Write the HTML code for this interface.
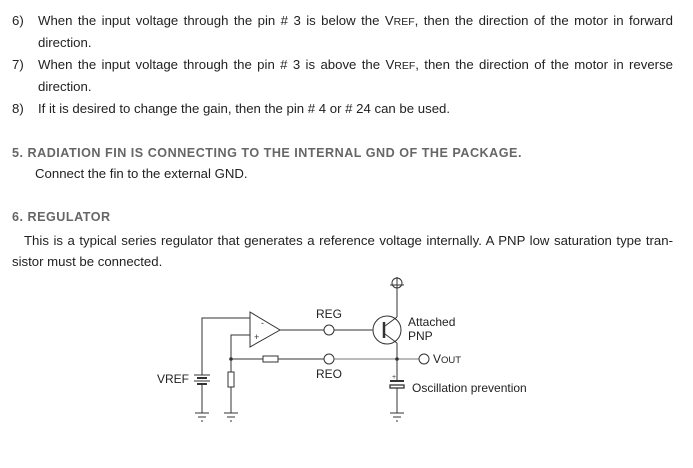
<!DOCTYPE html>
<html><head><meta charset="utf-8"><style>
body{margin:0;background:#fff;width:693px;height:468px;overflow:hidden;position:relative;font-family:"Liberation Sans",Arial,sans-serif;color:#222;font-size:13.2px}
.l{position:absolute;white-space:nowrap;line-height:14px}
.j{text-align:justify;text-align-last:justify;white-space:normal}
.h{color:#666;font-weight:bold;font-size:12.6px;letter-spacing:0.5px}
.sc{font-size:10.5px}
</style></head><body>
<div class="l" style="left:12px;top:14px">6)</div>
<div class="l j" style="left:38px;top:14px;width:635px">When the input voltage through the pin # 3 is below the V<span class="sc">REF</span>, then the direction of the motor in forward</div>
<div class="l" style="left:38px;top:36px">direction.</div>
<div class="l" style="left:12px;top:58px">7)</div>
<div class="l j" style="left:38px;top:58px;width:635px">When the input voltage through the pin # 3 is above the V<span class="sc">REF</span>, then the direction of the motor in reverse</div>
<div class="l" style="left:38px;top:80px">direction.</div>
<div class="l" style="left:12px;top:102px">8)</div>
<div class="l" style="left:38px;top:102px">If it is desired to change the gain, then the pin # 4 or # 24 can be used.</div>
<div class="l h" style="left:12px;top:146px">5. RADIATION FIN IS CONNECTING TO THE INTERNAL GND OF THE PACKAGE.</div>
<div class="l" style="left:35px;top:167px">Connect the fin to the external GND.</div>
<div class="l h" style="left:12px;top:210px">6. REGULATOR</div>
<div class="l j" style="left:24px;top:234px;width:649px">This is a typical series regulator that generates a reference voltage internally. A PNP low saturation type tran-</div>
<div class="l" style="left:12px;top:255px">sistor must be connected.</div>
<svg style="position:absolute;left:0;top:0" width="693" height="468" stroke="#333" stroke-width="1" fill="none" font-family="Liberation Sans,Arial,sans-serif" font-size="12">
<circle cx="397" cy="283" r="5"/><line x1="390" y1="285" x2="404" y2="285"/><line x1="397" y1="277" x2="397" y2="317"/>
<circle cx="387" cy="330" r="14"/><line x1="384" y1="322" x2="384" y2="338" stroke-width="2.5"/>
<line x1="385" y1="326" x2="397" y2="317"/><line x1="385" y1="334" x2="397" y2="343"/>
<line x1="397" y1="343" x2="397" y2="381"/><line x1="397" y1="388" x2="397" y2="413"/>
<line x1="390" y1="381" x2="404" y2="381" stroke-width="2"/><rect x="390" y="385" width="14" height="3" stroke-width="1.3"/>
<text x="392" y="379" font-size="7" fill="#333" stroke="none">+</text>
<polygon points="250,312 280,330 250,347"/>
<text x="261" y="326" font-size="9" fill="#333" stroke="none">-</text><text x="254" y="340" font-size="9" fill="#333" stroke="none">+</text>
<line x1="280" y1="330" x2="324" y2="330"/><circle cx="329" cy="330" r="5"/><line x1="334" y1="330" x2="373" y2="330"/>
<polyline points="250,318 202,318 202,375"/><line x1="202" y1="383" x2="202" y2="413"/>
<line x1="194" y1="375" x2="210" y2="375"/><line x1="197" y1="378" x2="207" y2="378" stroke-width="2"/><line x1="194" y1="381" x2="210" y2="381"/><line x1="197" y1="384" x2="207" y2="384" stroke-width="2"/>
<polyline points="250,335 231,335 231,372"/><rect x="228" y="372" width="6" height="15"/><line x1="231" y1="387" x2="231" y2="413"/>
<line x1="231" y1="359" x2="263" y2="359"/><rect x="263" y="356" width="15" height="6"/><line x1="278" y1="359" x2="324" y2="359"/>
<circle cx="329" cy="359" r="5"/><line x1="334" y1="359" x2="419" y2="359" stroke="#777"/><circle cx="424" cy="359" r="5"/>
<circle cx="231" cy="359" r="1.3" fill="#333"/><circle cx="397" cy="359" r="1.3" fill="#333"/>
<g><line x1="195" y1="413" x2="209" y2="413"/><line x1="198" y1="417" x2="206" y2="417"/><line x1="201" y1="421" x2="203" y2="421"/></g>
<g><line x1="224" y1="413" x2="238" y2="413"/><line x1="227" y1="417" x2="235" y2="417"/><line x1="230" y1="421" x2="232" y2="421"/></g>
<g><line x1="390" y1="413" x2="404" y2="413"/><line x1="393" y1="417" x2="401" y2="417"/><line x1="396" y1="421" x2="398" y2="421"/></g>
<g fill="#222" stroke="none">
<text x="316" y="318">REG</text><text x="316" y="378">REO</text><text x="157" y="383">VREF</text>
<text x="408" y="326">Attached</text><text x="408" y="340">PNP</text>
<text x="433" y="363">V<tspan font-size="9.5">OUT</tspan></text><text x="412" y="392">Oscillation prevention</text>
</g>
</svg>
</body></html>
